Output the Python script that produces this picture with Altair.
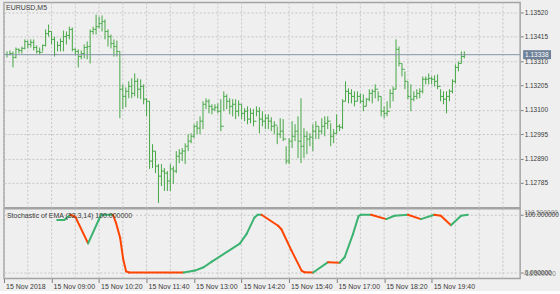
import altair as alt
import pandas as pd

# ---------------- data ----------------
HIGH = [1.13352, 1.13356, 1.13352, 1.13369, 1.13365, 1.13373, 1.13404, 1.13399, 1.13404, 1.13404,
        1.13378, 1.13369, 1.13382, 1.13447, 1.13468, 1.13438, 1.13416, 1.13395, 1.13408, 1.13442,
        1.13438, 1.13459, 1.13455, 1.13365, 1.13361, 1.13356, 1.13382, 1.13395, 1.13447, 1.13459,
        1.13511, 1.13502, 1.13507, 1.13490, 1.13447, 1.13425, 1.13404, 1.13399, 1.13352, 1.13210,
        1.13197, 1.13223, 1.13236, 1.13257, 1.13236, 1.13232, 1.13210, 1.13150, 1.13137, 1.12952,
        1.12922, 1.12866, 1.12866, 1.12849, 1.12836, 1.12866, 1.12857, 1.12922, 1.12931, 1.12935,
        1.12956, 1.12995, 1.12999, 1.13038, 1.13051, 1.13072, 1.13137, 1.13150, 1.13146, 1.13124,
        1.13124, 1.13128, 1.13146, 1.13180, 1.13167, 1.13150, 1.13146, 1.13146, 1.13141, 1.13124,
        1.13107, 1.13115, 1.13107, 1.13103, 1.13115, 1.13111, 1.13094, 1.13081, 1.13081, 1.13068,
        1.13051, 1.13029, 1.13064, 1.13060, 1.12943, 1.12978, 1.13051, 1.13038, 1.13072, 1.13150,
        1.13021, 1.13008, 1.12999, 1.13038, 1.13051, 1.13029, 1.13064, 1.13072, 1.13072, 1.13042,
        1.13017, 1.13081, 1.13038, 1.13146, 1.13223, 1.13193, 1.13189, 1.13180, 1.13180, 1.13171,
        1.13167, 1.13150, 1.13189, 1.13189, 1.13210, 1.13180, 1.13158, 1.13115, 1.13137, 1.13189,
        1.13201, 1.13404, 1.13373, 1.13300, 1.13266, 1.13223, 1.13210, 1.13180, 1.13189, 1.13193,
        1.13244, 1.13244, 1.13257, 1.13244, 1.13249, 1.13253, 1.13189, 1.13180, 1.13180, 1.13189,
        1.13232, 1.13296, 1.13309, 1.13352, 1.13352]

LOW = [1.13326, 1.13335, 1.13283, 1.13322, 1.13343, 1.13343, 1.13361, 1.13365, 1.13369, 1.13356,
       1.13343, 1.13339, 1.13352, 1.13373, 1.13416, 1.13382, 1.13330, 1.13352, 1.13352, 1.13352,
       1.13382, 1.13404, 1.13352, 1.13335, 1.13283, 1.13318, 1.13322, 1.13318, 1.13300, 1.13425,
       1.13425, 1.13451, 1.13438, 1.13404, 1.13373, 1.13365, 1.13330, 1.13330, 1.13064, 1.13103,
       1.13111, 1.13150, 1.13150, 1.13158, 1.13150, 1.13146, 1.13124, 1.13072, 1.12845, 1.12849,
       1.12827, 1.12698, 1.12771, 1.12750, 1.12750, 1.12750, 1.12780, 1.12827, 1.12870, 1.12879,
       1.12866, 1.12922, 1.12956, 1.12978, 1.12995, 1.12995, 1.13017, 1.13103, 1.13085, 1.13081,
       1.13094, 1.13085, 1.13008, 1.13094, 1.13103, 1.13081, 1.13072, 1.13060, 1.13072, 1.13060,
       1.13051, 1.13038, 1.13042, 1.13029, 1.13072, 1.12999, 1.13029, 1.13017, 1.13017, 1.13008,
       1.12995, 1.12952, 1.12978, 1.12965, 1.12866, 1.12866, 1.12935, 1.12965, 1.12892, 1.12870,
       1.12892, 1.12909, 1.12943, 1.12922, 1.12974, 1.12974, 1.12995, 1.12986, 1.13017, 1.12943,
       1.12956, 1.12995, 1.13008, 1.13017, 1.13137, 1.13128, 1.13128, 1.13115, 1.13137, 1.13128,
       1.13094, 1.13115, 1.13137, 1.13128, 1.13150, 1.13137, 1.13072, 1.13064, 1.13072, 1.13107,
       1.13137, 1.13189, 1.13287, 1.13244, 1.13189, 1.13146, 1.13094, 1.13137, 1.13146, 1.13150,
       1.13171, 1.13210, 1.13210, 1.13210, 1.13201, 1.13189, 1.13137, 1.13124, 1.13085, 1.13137,
       1.13171, 1.13214, 1.13266, 1.13300, 1.13322]

CLOSE = [1.13339, 1.13343, 1.13326, 1.13361, 1.13356, 1.13365, 1.13395, 1.13382, 1.13391, 1.13369,
         1.13352, 1.13348, 1.13378, 1.13429, 1.13438, 1.13404, 1.13339, 1.13378, 1.13395, 1.13416,
         1.13421, 1.13447, 1.13361, 1.13352, 1.13330, 1.13343, 1.13369, 1.13373, 1.13438, 1.13447,
         1.13459, 1.13472, 1.13481, 1.13438, 1.13416, 1.13386, 1.13373, 1.13352, 1.13189, 1.13158,
         1.13180, 1.13201, 1.13171, 1.13223, 1.13189, 1.13201, 1.13146, 1.13137, 1.12879, 1.12922,
         1.12857, 1.12814, 1.12836, 1.12827, 1.12793, 1.12845, 1.12836, 1.12900, 1.12913, 1.12922,
         1.12943, 1.12965, 1.12986, 1.13029, 1.13021, 1.13051, 1.13124, 1.13137, 1.13115, 1.13103,
         1.13111, 1.13094, 1.13029, 1.13158, 1.13137, 1.13115, 1.13124, 1.13094, 1.13124, 1.13085,
         1.13094, 1.13060, 1.13085, 1.13051, 1.13094, 1.13060, 1.13051, 1.13064, 1.13051, 1.13029,
         1.13034, 1.12995, 1.13008, 1.12974, 1.12879, 1.12965, 1.12986, 1.13008, 1.12965, 1.12943,
         1.12986, 1.12974, 1.12982, 1.13008, 1.13029, 1.13008, 1.13029, 1.13042, 1.13051, 1.12986,
         1.12999, 1.13029, 1.13025, 1.13137, 1.13180, 1.13171, 1.13158, 1.13137, 1.13158, 1.13137,
         1.13115, 1.13146, 1.13171, 1.13180, 1.13189, 1.13158, 1.13094, 1.13085, 1.13094, 1.13171,
         1.13189, 1.13361, 1.13300, 1.13275, 1.13223, 1.13158, 1.13146, 1.13158, 1.13171, 1.13180,
         1.13232, 1.13232, 1.13236, 1.13232, 1.13223, 1.13201, 1.13158, 1.13146, 1.13158, 1.13180,
         1.13223, 1.13283, 1.13300, 1.13330, 1.13338]

PRICE_TICKS = [1.13520, 1.13415, 1.13310, 1.13205, 1.13100, 1.12995, 1.12890, 1.12785]
LAST_PRICE = 1.13338

TIME_TICK_IDX = [-1, 15, 31, 47, 63, 79, 95, 111, 127, 143]
TIME_TICK_LABELS = ["15 Nov 2018", "15 Nov 09:00", "15 Nov 10:20", "15 Nov 11:40",
                    "15 Nov 13:00", "15 Nov 14:20", "15 Nov 15:40", "15 Nov 17:00",
                    "15 Nov 18:20", "15 Nov 19:40"]
GRID_IDX = [-1, 7, 15, 23, 31, 39, 47, 55, 63, 71, 79, 87, 95, 103, 111, 119, 127, 135,
            143, 151, 159, 167]

STOCH_IDX = [16.9, 19.3, 21.3, 23.0, 27.3, 30.9, 31.7, 35.7, 36.7, 38.1, 39.1, 40.1, 41.1,
             59.5, 63.3, 66.2, 69.0, 78.4, 80.7, 83.3, 84.4, 85.7, 91.3, 92.4, 95.8, 99.2,
             100.2, 103.1, 108.1, 112.0, 113.7, 116.5, 118.4, 119.3, 122.6, 127.7, 130.5,
             135.0, 139.4, 143.9, 146.1, 149.5, 152.9, 155.2]
STOCH_VAL = [91, 91, 100, 96.5, 50.5, 91.4, 100, 100, 86, 60, 24, 2, 0,
             0, 3.4, 9.1, 19, 50, 67, 95, 100, 100, 81, 75, 38, 3.4,
             0.5, 0, 18, 17, 26.5, 66.5, 98, 100, 100, 92.5, 98.3,
             100, 92.5, 100, 98.3, 82, 98.3, 100]

# ---------------- tables ----------------
bars = pd.DataFrame({"i": list(range(len(HIGH))), "high": HIGH, "low": LOW, "close": CLOSE})
bars["open"] = bars["close"].shift(1).fillna(bars["close"])
bars["il"] = bars["i"] - 0.5
bars["ir"] = bars["i"] + 0.5

segs = []
prev = "up"
for k in range(len(STOCH_IDX) - 1):
    d = STOCH_VAL[k + 1] - STOCH_VAL[k]
    direction = "up" if d > 0 else ("down" if d < 0 else prev)
    prev = direction
    segs.append({"x1": STOCH_IDX[k], "x2": STOCH_IDX[k + 1],
                 "v1": STOCH_VAL[k], "v2": STOCH_VAL[k + 1], "dir": direction})
segs = pd.DataFrame(segs)
grid_df = pd.DataFrame({"g": GRID_IDX})
one = pd.DataFrame({"k": [0]})

FONT = "Liberation Sans"
TXT = "#3a3a3a"
GRIDC = "#c6c6c6"
BARC = "#46a846"
W = 518
XDOM = [-1.02, 172.8]
xs = alt.Scale(domain=XDOM, nice=False, zero=False)

label_expr = "''"
for idx, lab in reversed(list(zip(TIME_TICK_IDX, TIME_TICK_LABELS))):
    label_expr = f"datum.value == {idx} ? '{lab}' : ({label_expr})"

# ---------------- main price panel ----------------
ys = alt.Scale(domain=[1.126776, 1.13563], nice=False, zero=False)
yaxis = alt.Axis(orient="right", values=PRICE_TICKS, format=".5f", grid=True,
                 gridDash=[2, 2], gridColor=GRIDC, tickSize=3, tickColor="#808080",
                 labelPadding=1, labelFontSize=6.5, labelFont=FONT, labelColor=TXT,
                 domain=False, title=None, labelBaseline="middle",
                 labelOverlap=False, labelBound=False, labelFlush=False)

vgrid = alt.Chart(grid_df).mark_rule(strokeDash=[2, 2], color=GRIDC, strokeWidth=1).encode(
    x=alt.X("g:Q", scale=xs, axis=None))

stems = alt.Chart(bars).mark_rule(color=BARC, strokeWidth=1).encode(
    x=alt.X("i:Q", scale=xs, axis=None),
    y=alt.Y("low:Q", scale=ys, axis=yaxis),
    y2="high:Q")
opens = alt.Chart(bars).mark_rule(color=BARC, strokeWidth=1).encode(
    x=alt.X("il:Q", scale=xs, axis=None), x2="i:Q",
    y=alt.Y("open:Q", scale=ys, axis=yaxis))
closes = alt.Chart(bars).mark_rule(color=BARC, strokeWidth=1).encode(
    x=alt.X("i:Q", scale=xs, axis=None), x2="ir:Q",
    y=alt.Y("close:Q", scale=ys, axis=yaxis))

pline = alt.Chart(one).mark_rule(color="#8796ab", strokeWidth=1).encode(
    y=alt.datum(LAST_PRICE, scale=ys, axis=yaxis))
pbox = alt.Chart(one).mark_rect(color="#6e8198", yOffset=-4.5, y2Offset=4.5).encode(
    x=alt.value(521), x2=alt.value(549),
    y=alt.datum(LAST_PRICE, scale=ys, axis=yaxis), y2=alt.datum(LAST_PRICE))
ptext = alt.Chart(one).mark_text(align="left", baseline="middle", color="white",
                                 fontSize=6.5, font=FONT).encode(
    x=alt.value(523), y=alt.datum(LAST_PRICE, scale=ys, axis=yaxis), text=alt.value("1.13338"))
title1 = alt.Chart(one).mark_text(align="left", baseline="middle", color=TXT,
                                  fontSize=7, font=FONT).encode(
    x=alt.value(2), y=alt.value(6), text=alt.value("EURUSD,M5"))

main = alt.layer(vgrid, stems, opens, closes, pline, pbox, ptext, title1).properties(
    width=W, height=206)

# ---------------- stochastic panel ----------------
ss = alt.Scale(domain=[-10.34, 110.34], nice=False, zero=False)
saxis = alt.Axis(orient="right", values=[0, 100], grid=True, gridDash=[2, 2],
                 gridColor=GRIDC, tickSize=3, tickColor="#808080", labelPadding=1,
                 labelFontSize=6.5, labelFont=FONT, labelColor=TXT, domain=False,
                 title=None, labelExpr="datum.value == 100 ? '100.000000' : '0.000000'",
                 labelOverlap=False, labelBound=False, labelFlush=False)
xaxis = alt.Axis(values=TIME_TICK_IDX, labelExpr=label_expr, grid=False, tickSize=4,
                 tickColor="#808080", domain=False, labelAlign="left",
                 labelBaseline="top", labelPadding=0, labelOffset=1.5, labelFontSize=7,
                 labelFont=FONT, labelColor=TXT, labelOverlap=False, labelFlush=False,
                 labelBound=False, title=None)

vgrid2 = alt.Chart(grid_df).mark_rule(strokeDash=[2, 2], color=GRIDC, strokeWidth=1).encode(
    x=alt.X("g:Q", scale=xs, axis=xaxis))
stoch = alt.Chart(segs).mark_rule(strokeWidth=2, strokeCap="round").encode(
    x=alt.X("x1:Q", scale=xs, axis=xaxis), x2="x2:Q",
    y=alt.Y("v1:Q", scale=ss, axis=saxis), y2="v2:Q",
    color=alt.Color("dir:N", scale=alt.Scale(domain=["up", "down"],
                                             range=["#3cb371", "#ff4500"]), legend=None))
ghost_top = alt.Chart(one).mark_text(align="left", baseline="middle", color=TXT,
                                     fontSize=6.5, font=FONT, dy=-2, opacity=0.6).encode(
    x=alt.value(522), y=alt.datum(100, scale=ss, axis=saxis), text=alt.value("118.500000"))
ghost_bot = alt.Chart(one).mark_text(align="left", baseline="middle", color=TXT,
                                     fontSize=6.5, font=FONT, dy=1, opacity=0.6).encode(
    x=alt.value(521), y=alt.datum(0, scale=ss, axis=saxis), text=alt.value("-18.500000"))
title2 = alt.Chart(one).mark_text(align="left", baseline="middle", color=TXT,
                                  fontSize=7, font=FONT).encode(
    x=alt.value(3), y=alt.value(7.5), text=alt.value("Stochastic of EMA (32,3,14) 100.000000"))

lower = alt.layer(vgrid2, stoch, ghost_top, ghost_bot, title2).properties(width=W, height=70)

chart = alt.vconcat(main, lower, spacing=1, bounds="flush").properties(
    padding={"left": 2, "top": 0, "right": 0, "bottom": 0},
    background="#efefef",
).configure_view(fill="#efefef", stroke="#a3a3a3", strokeWidth=1.5)

chart.save("out.html", embed_options={"renderer": "svg", "actions": False})
